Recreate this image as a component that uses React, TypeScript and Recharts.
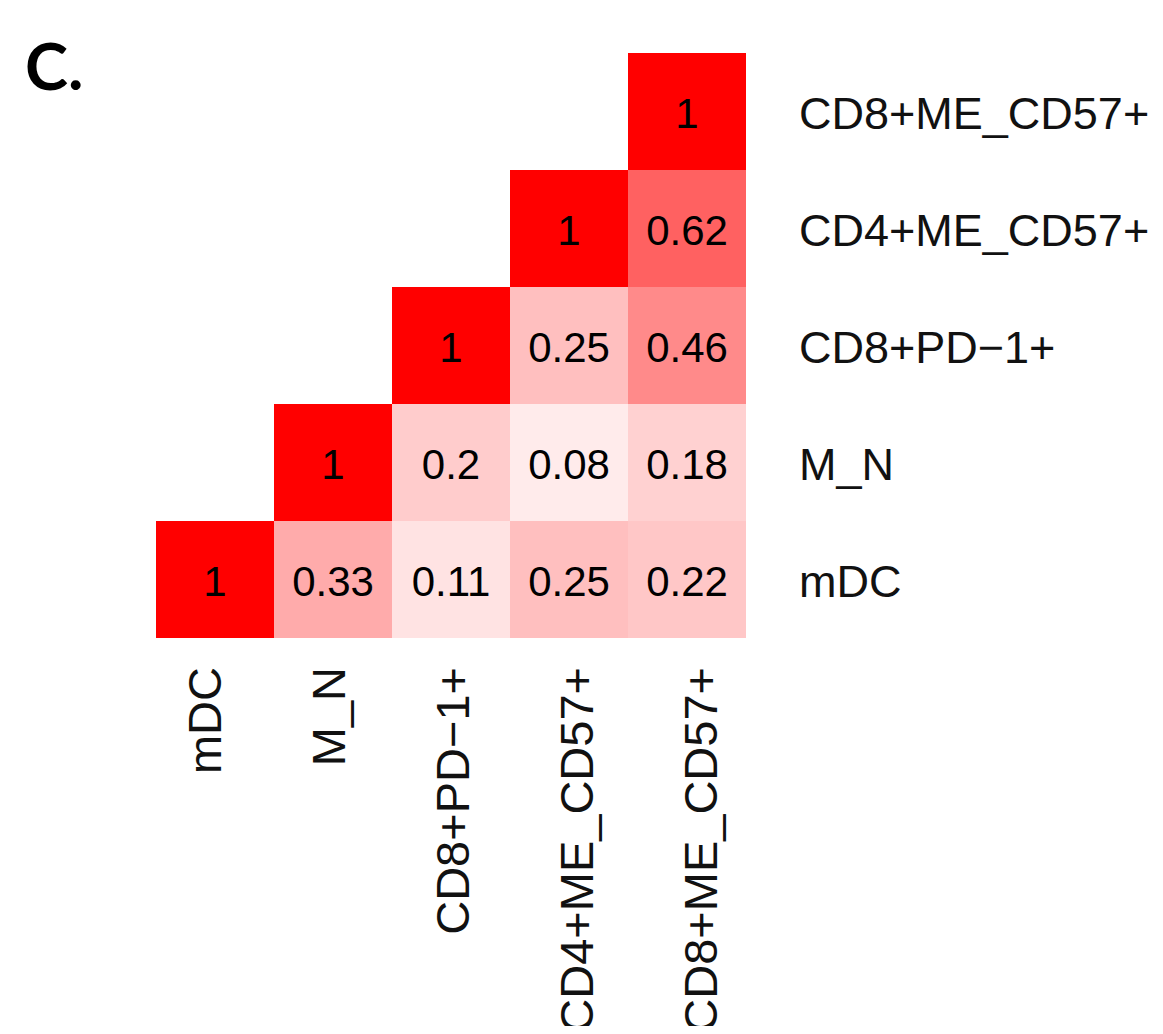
import { ScatterChart, Scatter, XAxis, YAxis } from "recharts";

// matrix labels, bottom row / left column first
const labels = ["mDC", "M_N", "CD8+PD−1+", "CD4+ME_CD57+", "CD8+ME_CD57+"];

// lower-triangle correlations, one array per row (starting at the diagonal)
const mDCRow = [1, 0.33, 0.11, 0.25, 0.22];
const mNRow = [1, 0.2, 0.08, 0.18];
const cd8PdRow = [1, 0.25, 0.46];
const cd4MeRow = [1, 0.62];
const cd8MeRow = [1];

const rows = [mDCRow, mNRow, cd8PdRow, cd4MeRow, cd8MeRow];

const cells = rows.flatMap((vals, r) =>
  vals.map((v, k) => ({ x: r + k + 0.5, y: r + 0.5, value: v }))
);

const ticks = [0.5, 1.5, 2.5, 3.5, 4.5];

const PLOT_W = 590;
const PLOT_H = 585;
const CELL_W = PLOT_W / labels.length;
const CELL_H = PLOT_H / labels.length;

const FONT = "'Liberation Sans', Arial, sans-serif";

function fillFor(v: number) {
  const c = Math.round(255 * (1 - v));
  return `rgb(255,${c},${c})`;
}

function Cell(props: any) {
  const { cx, cy, payload } = props;
  return (
    <g>
      <rect
        x={cx - CELL_W / 2}
        y={cy - CELL_H / 2}
        width={CELL_W}
        height={CELL_H}
        fill={fillFor(payload.value)}
      />
      <text
        x={cx}
        y={cy + 2}
        textAnchor="middle"
        dominantBaseline="central"
        fontFamily={FONT}
        fontSize={42}
        fill="#000"
      >
        {String(payload.value)}
      </text>
    </g>
  );
}

function XTick(props: any) {
  const { x, y, payload } = props;
  const tx = x;
  const ty = y + 27;
  return (
    <text
      x={tx}
      y={ty}
      transform={`rotate(-90, ${tx}, ${ty})`}
      textAnchor="end"
      dominantBaseline="central"
      fontFamily={FONT}
      fontSize={47}
      fill="#111"
    >
      {labels[Math.round(payload.value - 0.5)]}
    </text>
  );
}

function YTick(props: any) {
  const { x, y, payload } = props;
  return (
    <text
      x={x + 51}
      y={y + 2}
      textAnchor="start"
      dominantBaseline="central"
      fontFamily={FONT}
      fontSize={45}
      fill="#111"
    >
      {labels[Math.round(payload.value - 0.5)]}
    </text>
  );
}

export default function App() {
  return (
    <div style={{ position: "relative", width: 1147, height: 1018 }}>
      <div
        style={{
          position: "absolute",
          left: 17,
          top: 25,
          fontFamily: "Lato, 'Open Sans', sans-serif",
          fontWeight: 700,
          fontSize: 65,
          lineHeight: 1,
          color: "#000",
        }}
      >
        C.
      </div>
      <ScatterChart
        width={1147}
        height={1018}
        margin={{ top: 45, left: 148, right: 9, bottom: 8 }}
      >
        <XAxis type="number" dataKey="x" domain={[0, 5]} height={0} hide />
        {/* labels sit slightly wider apart than the cells in the original */}
        <XAxis
          xAxisId="labels"
          type="number"
          dataKey="x"
          domain={[0, 5]}
          ticks={ticks}
          padding={{ left: -14, right: -16 }}
          height={380}
          axisLine={false}
          tickLine={false}
          tickSize={0}
          tick={<XTick />}
          interval={0}
        />
        <YAxis
          type="number"
          dataKey="y"
          domain={[0, 5]}
          ticks={ticks}
          orientation="right"
          width={400}
          axisLine={false}
          tickLine={false}
          tickSize={0}
          tick={<YTick />}
          interval={0}
        />
        <Scatter data={cells} shape={<Cell />} isAnimationActive={false} />
        <Scatter
          xAxisId="labels"
          data={cells}
          shape={() => <g />}
          isAnimationActive={false}
        />
      </ScatterChart>
    </div>
  );
}
